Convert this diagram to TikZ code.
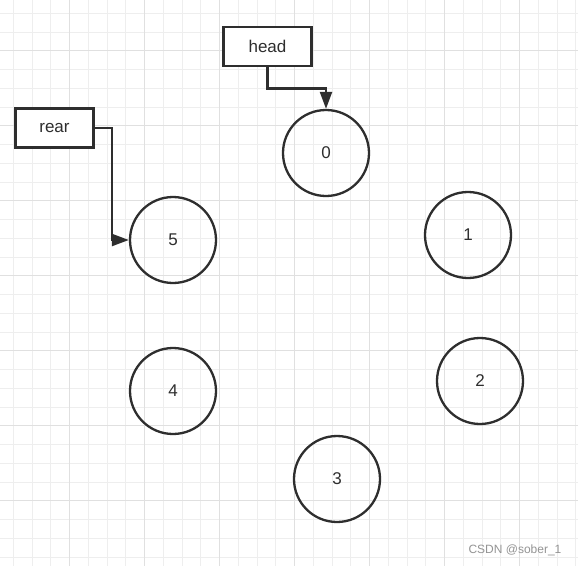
\documentclass[tikz,border=0pt]{standalone}
\usepackage{fontspec}
\setmainfont{Liberation Sans}
\usetikzlibrary{positioning,arrows.meta,calc}
\definecolor{ink}{HTML}{2E2E2E}
\definecolor{minorgrid}{HTML}{EEEEEE}
\definecolor{majorgrid}{HTML}{E0E0E0}
\tikzset{
	slot/.style={circle,draw=ink,line width=2.3pt,minimum size=86pt,inner sep=0pt,
		text=ink,font=\fontsize{17}{20}\selectfont},
	pointer/.style={rectangle,draw=ink,line width=2.8pt,fill=white,inner sep=0pt,
		text=ink,font=\fontsize{17}{20}\selectfont},
	link/.style={draw=ink,line width=2.3pt,-{Triangle[length=17pt,width=12pt]}}
}
\begin{document}
\begin{tikzpicture}[x=1pt,y=-1pt]
	\def\largeur{578}
	\def\hauteur{566}
\useasboundingbox (0,0) rectangle (\largeur,\hauteur);
\fill[white] (0,0) rectangle (\largeur,\hauteur);

%grille de fond
\foreach \k in {0,...,31} {
	\draw[minorgrid,line width=1pt] ({-5.45+18.75*\k},0) -- ({-5.45+18.75*\k},\hauteur);
	\draw[minorgrid,line width=1pt] (0,{-5.45+18.75*\k}) -- (\largeur,{-5.45+18.75*\k});
}
\foreach \k in {0,...,7} {
	\draw[majorgrid,line width=1pt] ({-5.3+75*\k},0) -- ({-5.3+75*\k},\hauteur);
	\draw[majorgrid,line width=1pt] (0,{-24.2+75*\k}) -- (\largeur,{-24.2+75*\k});
}

%cases de la file
\node[slot] (n0) at (326,153) {0};
\node[slot] (n1) at (468,235) {1};
\node[slot] (n2) at (480,381) {2};
\node[slot] (n3) at (337,479) {3};
\node[slot] (n4) at (173,391) {4};
\node[slot] (n5) at (173,240) {5};

%pointeurs
\node[pointer,minimum width=88pt,minimum height=39pt] (head) at (267.5,46.5) {head};
\node[pointer,minimum width=78pt,minimum height=39pt] (rear) at (54.5,128) {rear};

\draw[link] (head.south) -- ++(0,21) -| (n0.north);
\draw[link] (rear.east) -- ++(17,0) |- (n5.west);

\node[text=black!42,font=\fontsize{12}{14}\selectfont] (mark) at (515,550) {CSDN @sober\_1};

\end{tikzpicture}
\end{document}
